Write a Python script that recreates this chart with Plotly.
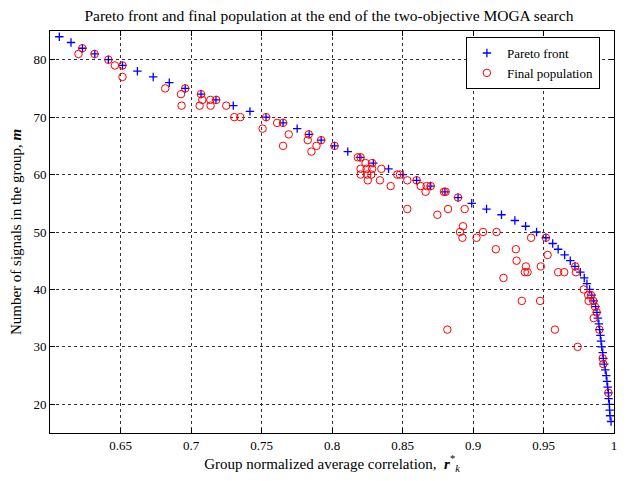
import plotly.graph_objects as go

# Pareto front: number of signals m and normalized correlation
pareto_m = list(range(84, 16, -1))
pareto_r = [0.6066, 0.6149, 0.6230, 0.6318, 0.6414, 0.6514, 0.6620, 0.6732, 0.6846, 0.6959,
            0.7071, 0.7177, 0.7300, 0.7418, 0.7532, 0.7653, 0.7753, 0.7838, 0.7923, 0.8018,
            0.8112, 0.8198, 0.8293, 0.8401, 0.8503, 0.8600, 0.8700, 0.8801, 0.8894, 0.8991,
            0.9096, 0.9202, 0.9297, 0.9373, 0.9451, 0.9517, 0.9565, 0.9604, 0.9650, 0.9690,
            0.9723, 0.9761, 0.9789, 0.9808, 0.9827, 0.9842, 0.9856, 0.9870, 0.9879, 0.9886,
            0.9893, 0.9898, 0.9903, 0.9908, 0.9913, 0.9920, 0.9924, 0.9931, 0.9938, 0.9945,
            0.9950, 0.9955, 0.9960, 0.9962, 0.9967, 0.9969, 0.9972, 0.9979]

# Final population
pop_r = [0.6229, 0.6202, 0.6316, 0.6414, 0.6460, 0.6514, 0.6514, 0.6817, 0.6959, 0.6929,
         0.6933, 0.7071, 0.7080, 0.7061, 0.7137, 0.7179, 0.7139, 0.7250, 0.7307, 0.7350,
         0.7533, 0.7508, 0.7611, 0.7653, 0.7693, 0.7653, 0.7835, 0.7828, 0.7923, 0.7890,
         0.7854, 0.8018, 0.8183, 0.8203, 0.8238, 0.8285, 0.8203, 0.8245, 0.8285, 0.8350,
         0.8203, 0.8250, 0.8279, 0.8254, 0.8340, 0.8416, 0.8463, 0.8482, 0.8534, 0.8600,
         0.8629, 0.8671, 0.8664, 0.8700, 0.8794, 0.8806, 0.8894, 0.8534, 0.8747, 0.8823,
         0.8941, 0.8929, 0.8908, 0.8925, 0.9025, 0.9071, 0.9167, 0.9162, 0.9304, 0.9309,
         0.9375, 0.9368, 0.9387, 0.9216, 0.9346, 0.9476, 0.9412, 0.9517, 0.9481, 0.9529,
         0.9604, 0.9647, 0.9725, 0.9730, 0.9785, 0.9817, 0.9837, 0.9820, 0.9853, 0.9865,
         0.9877, 0.9856, 0.9896, 0.8818, 0.9581, 0.9742, 0.9920, 0.9924, 0.9960]
pop_m = [82, 81, 81, 80, 79, 79, 77, 75, 75, 74,
         72, 74, 73, 72, 73, 73, 72, 72, 70, 70,
         70, 68, 69, 69, 67, 65, 67, 66, 66, 65,
         64, 65, 63, 63, 62, 62, 61, 61, 61, 61,
         60, 60, 60, 59, 59, 58, 60, 60, 59, 59,
         58, 58, 57, 58, 57, 57, 56, 54, 53, 54,
         54, 51, 50, 49, 49, 50, 50, 47, 47, 45,
         44, 43, 43, 42, 38, 38, 49, 49, 44, 46,
         43, 43, 44, 43, 40, 39, 39, 38, 38, 37,
         36, 35, 33, 33, 33, 30, 28, 27, 22]

x_ticks = [0.65, 0.7, 0.75, 0.8, 0.85, 0.9, 0.95, 1]
y_ticks = [20, 30, 40, 50, 60, 70, 80]

serif = "Liberation Serif, Times New Roman, serif"

fig = go.Figure()
fig.add_trace(go.Scatter(
    x=pareto_r, y=pareto_m, mode="markers", name="Pareto front",
    marker=dict(symbol="cross-thin-open", size=6, color="#0000ff",
                line=dict(color="#0000ff", width=1.3))))
fig.add_trace(go.Scatter(
    x=pop_r, y=pop_m, mode="markers", name="Final population",
    marker=dict(symbol="circle-open", size=7.5, color="#ff0000",
                line=dict(color="#ff0000", width=1))))

axis_common = dict(
    showline=True, linecolor="black", linewidth=1, mirror="ticks",
    ticks="inside", ticklen=5, tickcolor="black",
    showgrid=True, gridcolor="#333333", griddash="dot", gridwidth=1,
    zeroline=False, tickfont=dict(family=serif, size=13, color="black"),
)

fig.update_layout(
    width=635, height=481,
    margin=dict(l=50, r=21, t=31, b=44),
    paper_bgcolor="white", plot_bgcolor="white",
    title=dict(text="Pareto front and final population at the end of the two-objective MOGA search",
               x=0.518, xanchor="center", y=0.978, yanchor="top",
               font=dict(family=serif, size=15.5, color="black")),
    xaxis=dict(range=[0.6, 1.0], tickvals=x_ticks,
               ticktext=[str(v) for v in x_ticks],
               title=dict(text="Group normalized average correlation,  <b><i>r</i></b><sup>*</sup><sub><i>k</i></sub>",
                          font=dict(family=serif, size=15, color="black"), standoff=6),
               **axis_common),
    yaxis=dict(range=[15, 85], tickvals=y_ticks,
               title=dict(text="Number of signals in the group, <b><i>m</i></b>",
                          font=dict(family=serif, size=15, color="black"), standoff=8),
               **axis_common),
    legend=dict(x=0.975, y=0.985, xanchor="right", yanchor="top",
                bordercolor="black", borderwidth=1, bgcolor="white",
                font=dict(family=serif, size=13, color="black"),
                itemwidth=30, tracegroupgap=0),
    showlegend=True,
)

fig.write_html("out.html")
